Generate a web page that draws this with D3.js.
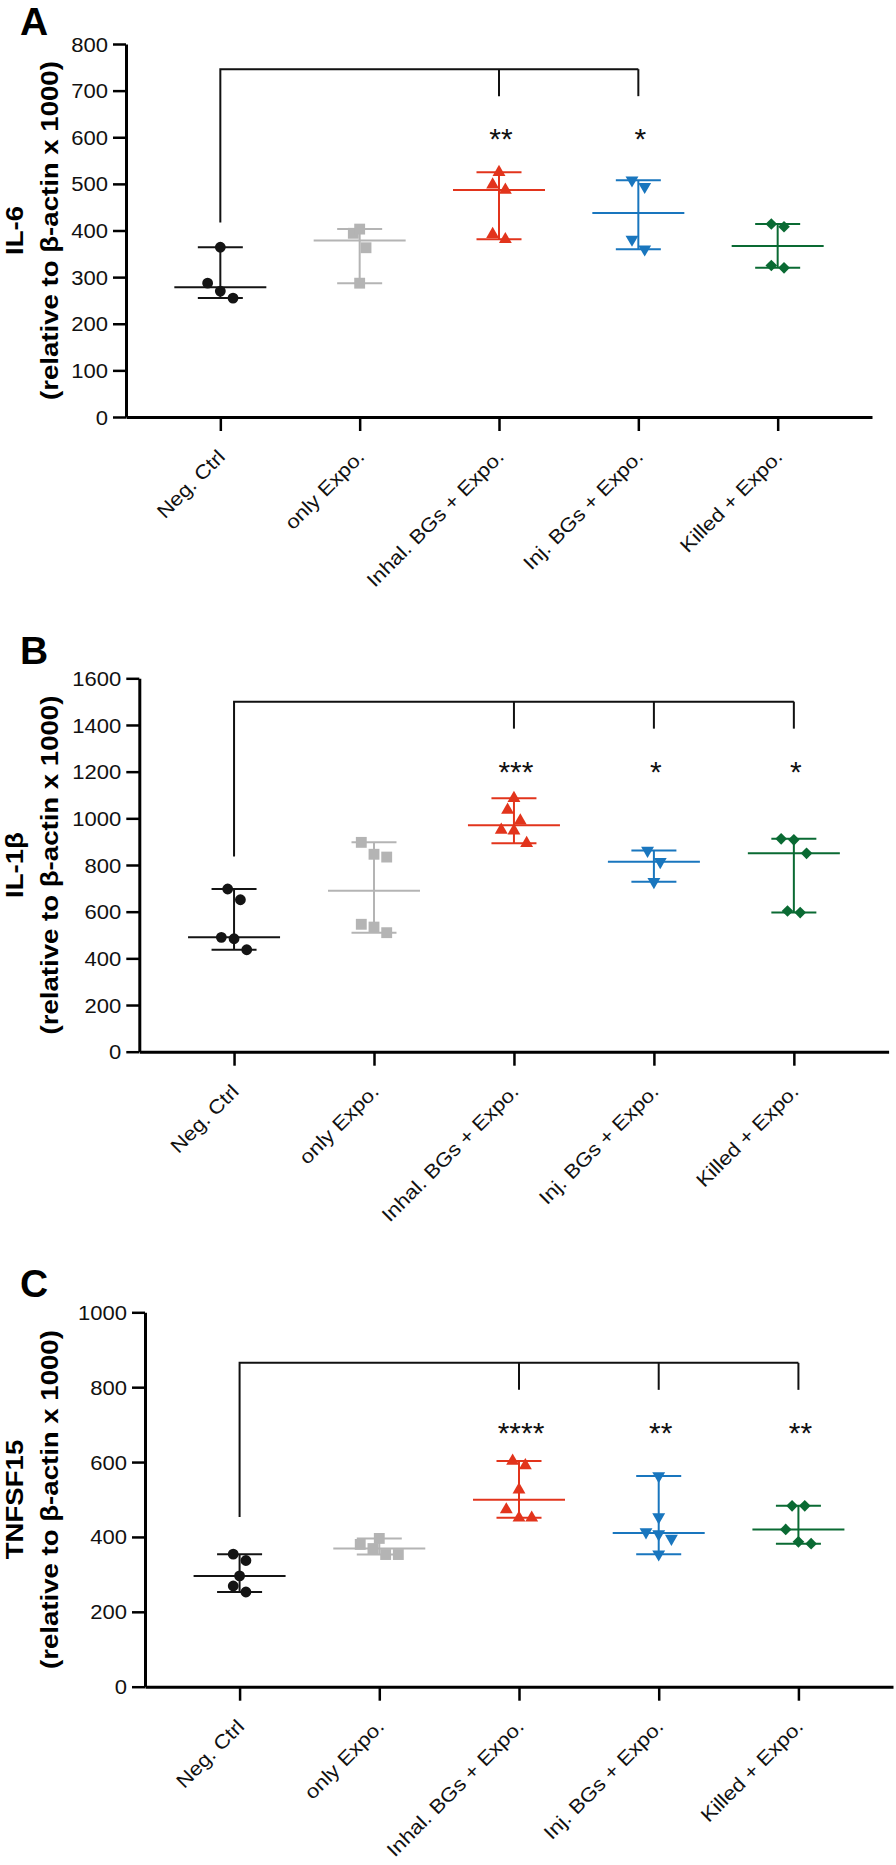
<!DOCTYPE html>
<html><head><meta charset="utf-8">
<script src="https://cdn.jsdelivr.net/npm/d3@7"></script>
<style>body{margin:0;background:#fff}svg{display:block}</style>
</head><body>
<svg id="chart" width="896" height="1865"></svg>
<script>
// ---------------- data ----------------
const categories = ["Neg. Ctrl", "only Expo.", "Inhal. BGs + Expo.", "Inj. BGs + Expo.", "Killed + Expo."];

// IL-6 (panel A)
const il6Values = [
  [364, 287, 270, 255],
  [403, 394, 363, 287],
  [525, 498, 487, 392, 381],
  [508, 494, 381, 360],
  [414, 408, 325, 320]
];
const il6Ticks = [0, 100, 200, 300, 400, 500, 600, 700, 800];
const il6Stars = ["", "", "**", "*", ""];
const il6BracketY = 746;
const il6BracketLeg = 417;

// IL-1β (panel B)
const il1bValues = [
  [697, 651, 490, 484, 437],
  [897, 846, 834, 546, 534, 510],
  [1086, 1036, 990, 950, 947, 893],
  [862, 814, 728],
  [912, 908, 850, 603, 596]
];
const il1bTicks = [0, 200, 400, 600, 800, 1000, 1200, 1400, 1600];
const il1bStars = ["", "", "***", "*", "*"];
const il1bBracketY = 1500;
const il1bBracketLeg = 836;

// TNFSF15 (panel C)
const tnfValues = [
  [354, 337, 296, 269, 253],
  [396, 380, 369, 353, 353],
  [603, 591, 526, 473, 451, 451],
  [563, 453, 413, 408, 396, 354],
  [483, 483, 420, 387, 382]
];
const tnfTicks = [0, 200, 400, 600, 800, 1000];
const tnfStars = ["", "", "****", "**", "**"];
const tnfBracketY = 865;
const tnfBracketLeg = 453;

// ---------------- layout / style ----------------
const FONT = '"Liberation Sans", Arial, Helvetica, sans-serif';
const colors = ["#141414", "#b4b4b4", "#e2341c", "#1976be", "#0a6a33"];
const shapes = [d3.symbolCircle, d3.symbolSquare, d3.symbolTriangle, d3.symbolTriangle, d3.symbolSquare];
const symSizes = [92, 118, 72, 72, 68];
const symRot = [0, 0, 0, 180, 45];
const ROW_GAP = 15.1, STEP = 12.7;
const STRETCH = 1.13;

const panels = [
  {letter: "A", gene: "IL-6", values: il6Values, ticks: il6Ticks, stars: il6Stars,
   bracketY: il6BracketY, bracketLeg: il6BracketLeg,
   axisX: 126, top: 44, bottom: 417, right: 872, letterY: 35},
  {letter: "B", gene: "IL-1β", values: il1bValues, ticks: il1bTicks, stars: il1bStars,
   bracketY: il1bBracketY, bracketLeg: il1bBracketLeg,
   axisX: 139.3, top: 678.3, bottom: 1051.7, right: 888.6, letterY: 664},
  {letter: "C", gene: "TNFSF15", values: tnfValues, ticks: tnfTicks, stars: tnfStars,
   bracketY: tnfBracketY, bracketLeg: tnfBracketLeg,
   axisX: 145, top: 1312.3, bottom: 1686.7, right: 893, letterY: 1297}
];

const svg = d3.select("#chart").style("font-family", FONT);

function swarm(vals, y) {
  const sorted = vals.slice().sort((a, b) => a - b);
  const rows = [];
  let cur = null;
  sorted.forEach(v => {
    if (cur && (y(cur[0]) - y(v)) < ROW_GAP) cur.push(v);
    else { cur = [v]; rows.push(cur); }
  });
  const out = [];
  rows.forEach(r => {
    const d = r.slice().sort((a, b) => b - a);
    d.forEach((v, i) => out.push({v, dx: (i - (d.length - 1) / 2) * STEP}));
  });
  return out;
}

panels.forEach(p => {
  const g = svg.append("g");
  const y = d3.scaleLinear().domain([0, d3.max(p.ticks)]).range([p.bottom, p.top]);
  const x = d3.scalePoint().domain(categories).range([p.axisX, p.right]).padding(0.677);

  // panel letter
  g.append("text").attr("x", 20).attr("y", p.letterY)
    .attr("font-size", 39).attr("font-weight", "bold").attr("fill", "#000").text(p.letter);

  // y-axis
  const ya = g.append("g").attr("transform", `translate(${p.axisX},0)`)
    .call(d3.axisLeft(y).tickValues(p.ticks).tickFormat(d3.format("d"))
      .tickSize(13).tickSizeOuter(0).tickPadding(5));
  ya.select(".domain").attr("stroke", "#000").attr("stroke-width", 3);
  ya.selectAll(".tick line").attr("stroke", "#000").attr("stroke-width", 2.5);
  ya.selectAll(".tick text")
    .attr("x", null).attr("dy", "0.36em")
    .attr("transform", `translate(-18,0) scale(${STRETCH},1)`)
    .attr("font-size", 19.5).attr("font-family", FONT).attr("fill", "#111");

  // x-axis
  const xa = g.append("g").attr("transform", `translate(0,${p.bottom})`)
    .call(d3.axisBottom(x).tickSize(14).tickSizeOuter(0));
  xa.select(".domain").attr("stroke", "#000").attr("stroke-width", 3);
  xa.selectAll(".tick line").attr("stroke", "#000").attr("stroke-width", 2.5);
  xa.selectAll(".tick text").remove();

  g.selectAll(".xlab").data(categories).join("text")
    .attr("class", "xlab")
    .attr("transform", d => `translate(${x(d) + 6},${p.bottom + 41}) rotate(-45) scale(${STRETCH},1)`)
    .attr("text-anchor", "end").attr("font-size", 19.5).attr("fill", "#111")
    .text(d => d);

  // y-axis title: one text element, two lines, centred on the axis extent
  const cy = (p.top + p.bottom) / 2;
  const title = g.append("text")
    .attr("transform", `translate(40.5,${cy}) rotate(-90) scale(1.2,1)`)
    .attr("text-anchor", "middle").attr("font-size", 23).attr("font-weight", "bold")
    .attr("fill", "#000");
  title.append("tspan").attr("x", 0).attr("y", -17.5).text(p.gene);
  title.append("tspan").attr("x", 0).attr("y", 17.5).text("(relative to β-actin x 1000)");

  // groups
  categories.forEach((c, i) => {
    const vals = p.values[i];
    const cx = x(c);
    const med = d3.median(vals);
    const [mn, mx] = d3.extent(vals);
    const col = colors[i];
    const eg = g.append("g").attr("stroke", col).attr("stroke-width", 2).attr("fill", "none");
    eg.append("line").attr("x1", cx).attr("x2", cx).attr("y1", y(mn)).attr("y2", y(mx));
    eg.append("line").attr("x1", cx - 22.5).attr("x2", cx + 22.5).attr("y1", y(mn)).attr("y2", y(mn));
    eg.append("line").attr("x1", cx - 22.5).attr("x2", cx + 22.5).attr("y1", y(mx)).attr("y2", y(mx));
    eg.append("line").attr("x1", cx - 46).attr("x2", cx + 46).attr("y1", y(med)).attr("y2", y(med));

    const pts = swarm(vals, y);
    g.selectAll(null).data(pts).join("path")
      .attr("d", d3.symbol().type(shapes[i]).size(symSizes[i]))
      .attr("transform", d => `translate(${cx + d.dx},${y(d.v)}) rotate(${symRot[i]})`)
      .attr("fill", col);
  });

  // significance bracket
  const sigIdx = p.stars.map((s, i) => s ? i : -1).filter(i => i >= 0);
  const by = y(p.bracketY);
  const x0 = x(categories[0]);
  const xLast = x(categories[sigIdx[sigIdx.length - 1]]);
  const bg = g.append("g").attr("stroke", "#111").attr("stroke-width", 2).attr("fill", "none");
  bg.append("path").attr("d", `M${x0},${y(p.bracketLeg)}V${by}H${xLast}`);
  sigIdx.forEach(i => {
    const xx = x(categories[i]);
    bg.append("line").attr("x1", xx).attr("x2", xx).attr("y1", by).attr("y2", by + 27);
    g.append("text").attr("x", xx + 2).attr("y", by + 27 + 53)
      .attr("text-anchor", "middle").attr("font-size", 30).attr("fill", "#111")
      .text(p.stars[i]);
  });
});
</script>
</body></html>
